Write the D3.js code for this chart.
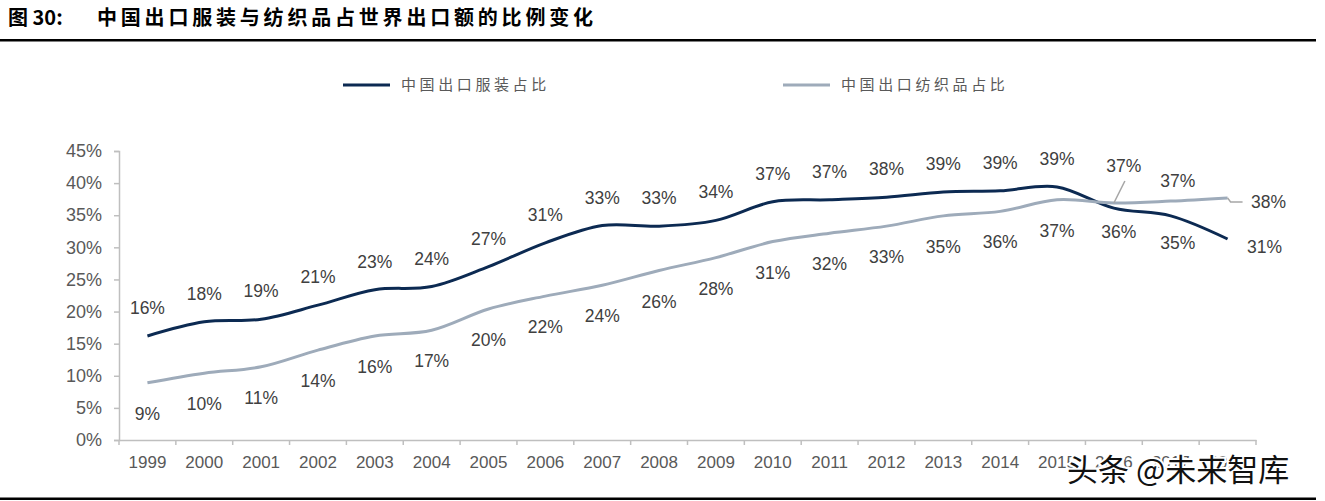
<!DOCTYPE html>
<html>
<head>
<meta charset="utf-8">
<script src="https://cdn.jsdelivr.net/npm/d3@7/dist/d3.min.js"></script>
<style>
  body { margin: 0; background: #fff; }
  svg { display: block; font-family: "Liberation Sans", Arial, sans-serif; }
</style>
</head>
<body>
<svg width="1325" height="501"></svg>
<script>
// Data (percent of world exports)
var years = ['1999','2000','2001','2002','2003','2004','2005','2006','2007','2008',
             '2009','2010','2011','2012','2013','2014','2015','2016','2017','2018'];
var clothing = [16.2, 18.4, 18.8, 21.0, 23.4, 23.9, 27.0, 30.7, 33.4, 33.3,
                34.2, 37.1, 37.4, 37.8, 38.6, 38.8, 39.4, 36.1, 34.9, 31.3];
var textiles = [8.9, 10.4, 11.4, 14.0, 16.2, 17.1, 20.4, 22.4, 24.1, 26.4,
                28.4, 30.9, 32.2, 33.3, 34.9, 35.6, 37.4, 36.9, 37.2, 37.7];
var yTicks = [0, 5, 10, 15, 20, 25, 30, 35, 40, 45];
var seriesNames = ['中国出口服装占比', '中国出口纺织品占比'];

var svg = d3.select('svg');
var colors = ['#0c2a52', '#9eabba'];

// Title + rules
svg.append('text')
    .attr('x', 8).attr('y', 25)
    .attr('font-family', '"Noto Sans CJK SC", sans-serif')
    .attr('font-weight', 'bold')
    .attr('font-size', 20)
    .attr('fill', '#000')
    .text('图 30:')
  .append('tspan')
    .attr('x', 97)
    .attr('letter-spacing', 3.8)
    .text('中国出口服装与纺织品占世界出口额的比例变化');

svg.append('rect').attr('x', 0).attr('y', 39).attr('width', 1316).attr('height', 2.5).attr('fill', '#000');
svg.append('rect').attr('x', 0).attr('y', 497.5).attr('width', 1316).attr('height', 2.5).attr('fill', '#000');

// Scales
var xScale = d3.scaleBand().domain(years).range([119, 1256]);
var yScale = d3.scaleLinear().domain([0, 45]).range([440, 151]);
var cx = function(i) { return xScale(years[i]) + xScale.bandwidth() / 2; };

// Axes
var yAxisG = svg.append('g')
    .attr('transform', 'translate(119,0)')
    .call(d3.axisLeft(yScale).tickValues(yTicks).tickSize(5).tickPadding(12)
        .tickFormat(function(d) { return d + '%'; }));
var xAxisG = svg.append('g')
    .attr('transform', 'translate(0,440)')
    .call(d3.axisBottom(xScale).tickSize(0).tickPadding(16));

yAxisG.selectAll('text').attr('font-size', 18).attr('fill', '#595959')
    .attr('font-family', '"Liberation Sans", Arial, sans-serif');
xAxisG.selectAll('text').attr('font-size', 17).attr('fill', '#595959')
    .attr('font-family', '"Liberation Sans", Arial, sans-serif');
svg.selectAll('.domain').attr('stroke', '#bfbfbf').attr('stroke-width', 1.5);
yAxisG.selectAll('.tick line').attr('stroke', '#bfbfbf').attr('stroke-width', 1.5);

// x ticks sit on the category boundaries
var bounds = years.map(function(d) { return xScale(d); }).concat([1256]);
svg.append('g').selectAll('line')
    .data(bounds).enter().append('line')
    .attr('x1', function(d) { return d; }).attr('x2', function(d) { return d; })
    .attr('y1', 440).attr('y2', 445)
    .attr('stroke', '#bfbfbf').attr('stroke-width', 1.5);

// Lines
var line = d3.line()
    .x(function(d, i) { return cx(i); })
    .y(function(d) { return yScale(d); })
    .curve(d3.curveCardinal.tension(0));

[clothing, textiles].forEach(function(vals, s) {
    svg.append('path')
        .datum(vals)
        .attr('d', line)
        .attr('fill', 'none')
        .attr('stroke', colors[s])
        .attr('stroke-width', 3);
});

// Data labels: clothing above, textiles below; a few moved by hand (index -> [dx, dy])
var labelShift = [
    {17: [5, 24], 18: [7, 27], 19: [37, 8]},
    {17: [10, -37], 18: [7, -20], 19: [41, 4]}
];

[clothing, textiles].forEach(function(vals, s) {
    svg.append('g').selectAll('text')
        .data(vals).enter().append('text')
        .attr('x', function(d, i) {
            var sh = labelShift[s][i];
            return cx(i) + (sh ? sh[0] : 0);
        })
        .attr('y', function(d, i) {
            var sh = labelShift[s][i];
            var dy = sh ? sh[1] : (s === 0 ? -28 : 31);
            return yScale(d) + dy;
        })
        .attr('dy', '0.35em')
        .attr('text-anchor', 'middle')
        .attr('font-size', 17.5)
        .attr('fill', '#404040')
        .text(function(d) { return Math.round(d) + '%'; });
});

// Leader lines for the two textile labels that were moved
var p16 = [cx(17), yScale(textiles[17])];
var p18 = [cx(19), yScale(textiles[19])];
svg.append('path')
    .attr('d', 'M' + (p16[0] + 11) + ',' + (p16[1] - 22) + 'L' + p16[0] + ',' + p16[1])
    .attr('fill', 'none').attr('stroke', '#a6a6a6').attr('stroke-width', 1.5);
svg.append('path')
    .attr('d', 'M' + p18[0] + ',' + p18[1] + 'L' + (p18[0] + 3) + ',' + (p18[1] + 4) + 'L' + (p18[0] + 15) + ',' + (p18[1] + 4))
    .attr('fill', 'none').attr('stroke', '#a6a6a6').attr('stroke-width', 1.5);

// Legend
var legendX = [343, 783];
var legend = svg.append('g').selectAll('g')
    .data(seriesNames).enter().append('g')
    .attr('transform', function(d, i) { return 'translate(' + legendX[i] + ',85)'; });
legend.append('line')
    .attr('x1', 0).attr('x2', 47)
    .attr('stroke', function(d, i) { return colors[i]; })
    .attr('stroke-width', 3);
legend.append('text')
    .attr('x', 58).attr('dy', '0.35em')
    .attr('font-family', '"Noto Sans CJK SC", sans-serif')
    .attr('font-size', 15)
    .attr('letter-spacing', 3.6)
    .attr('fill', '#595959')
    .text(function(d) { return d; });

// Watermark
svg.append('text')
    .attr('x', 1067).attr('y', 481)
    .attr('font-family', '"Noto Sans CJK SC", sans-serif')
    .attr('font-size', 31)
    .attr('fill', '#111')
    .attr('stroke', '#fff').attr('stroke-width', 4)
    .attr('paint-order', 'stroke')
    .text('头条 @未来智库');
</script>
</body>
</html>
